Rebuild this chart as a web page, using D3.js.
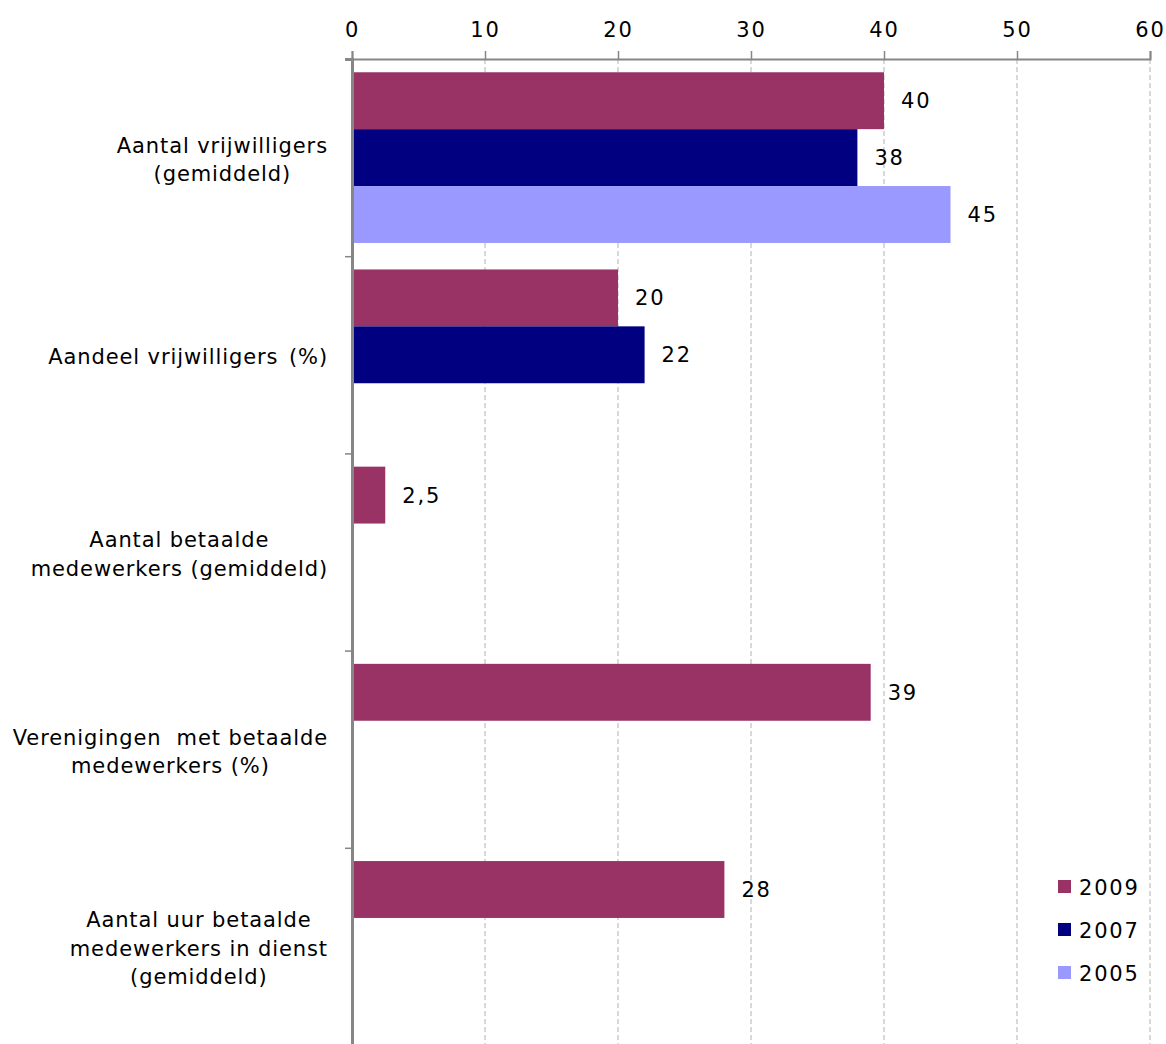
<!DOCTYPE html>
<html><head><meta charset="utf-8">
<script src="https://cdn.jsdelivr.net/npm/d3@7"></script>
<style>body{margin:0;background:#fff}svg{display:block}text{font-family:"DejaVu Sans",sans-serif;fill:#000;white-space:pre}</style>
</head><body>
<script>
const categories = [
  ["Aantal vrijwilligers","(gemiddeld)"],
  ["Aandeel vrijwilligers \u200A(%)"],
  ["Aantal betaalde","medewerkers (gemiddeld)"],
  ["Verenigingen  met betaalde","medewerkers (%)"],
  ["Aantal uur betaalde","medewerkers in dienst","(gemiddeld)"]
];
const seriesNames = ["2009","2007","2005"];
const values2009 = [40, 20, 2.5, 39, 28];
const values2007 = [38, 22, null, null, null];
const values2005 = [45, null, null, null, null];
const xTicks = [0,10,20,30,40,50,60];
const colors = ["#993366","#000080","#9999FF"];

(function(){
const W=1166,H=1044;
const svg=d3.select("body").append("svg").attr("width",W).attr("height",H);
const mLeft=352,mRight=1150,mTop=59,mBottom=1045;
const x=d3.scaleLinear().domain([0,60]).range([mLeft,mRight]);
const catIdx=categories.map((d,i)=>i);
const y0=d3.scaleBand().domain(catIdx).range([mTop,mBottom]).padding(0);
const y1=d3.scaleBand().domain(seriesNames).range([0,y0.bandwidth()]).paddingInner(0).paddingOuter(0.233);
const allVals=[values2009,values2007,values2005];

// gridlines
svg.append("g").selectAll("line").data(xTicks.filter(t=>t>0)).join("line")
  .attr("x1",d=>x(d)).attr("x2",d=>x(d)).attr("y1",mTop).attr("y2",H)
  .attr("stroke","#c0c0c0").attr("stroke-width",1.2).attr("stroke-dasharray","5,3");

// bars
const fmt=v=>String(v).replace(".",",");
seriesNames.forEach((s,si)=>{
  const data=allVals[si].map((v,i)=>({v,i})).filter(d=>d.v!=null);
  svg.append("g").selectAll("rect").data(data).join("rect")
    .attr("x",x(0)).attr("y",d=>y0(d.i)+y1(s))
    .attr("width",d=>x(d.v)-x(0)).attr("height",y1.bandwidth())
    .attr("fill",colors[si]);
  svg.append("g").selectAll("text").data(data).join("text")
    .attr("x",d=>x(d.v)+17).attr("y",d=>y0(d.i)+y1(s)+y1.bandwidth()/2)
    .attr("dy","0.36em").attr("font-size",21).attr("letter-spacing",1.8)
    .text(d=>fmt(d.v));
});

// top axis
const xAxis=d3.axisTop(x).tickValues(xTicks).tickSize(8).tickPadding(14).tickFormat(d3.format("d"));
const gx=svg.append("g").attr("transform",`translate(0,${mTop})`).call(xAxis);
gx.select(".domain").attr("stroke","#868686").attr("stroke-width",2);
gx.selectAll(".tick line").attr("stroke","#868686").attr("stroke-width",1.5);
gx.selectAll(".tick text").attr("font-size",21).attr("letter-spacing",1.8).attr("font-family","DejaVu Sans").attr("fill","#000");

// left axis
const yAxis=d3.axisLeft(d3.scaleLinear().domain([0,5]).range([mTop,mBottom])).ticks(5).tickSize(7).tickFormat("");
const gy=svg.append("g").attr("transform",`translate(${mLeft},0)`).call(yAxis);
gy.select(".domain").attr("stroke","#868686").attr("stroke-width",3);
gy.selectAll(".tick line").attr("stroke","#868686").attr("stroke-width",1.5);

// category labels
const lh=28.5;
categories.forEach((lines,i)=>{
  const g=svg.append("g");
  const cy=y0(i)+y0.bandwidth()/2+2;
  const texts=lines.map((l,j)=>g.append("text")
    .attr("y",cy+(j-(lines.length-1)/2)*lh).attr("dy","0.36em")
    .attr("font-size",21).attr("letter-spacing",0.9).attr("text-anchor","middle").text(l));
  const maxW=d3.max(texts,t=>t.node().getComputedTextLength());
  texts.forEach(t=>t.attr("x",328-maxW/2));
});

// legend
const lg=svg.append("g");
seriesNames.forEach((s,i)=>{
  const yy=887+i*43;
  lg.append("rect").attr("x",1058).attr("y",yy-7).attr("width",13).attr("height",13).attr("fill",colors[i]);
  lg.append("text").attr("x",1079).attr("y",yy).attr("dy","0.36em").attr("font-size",21).attr("letter-spacing",1.8).text(s);
});
})();
</script>
</body></html>
